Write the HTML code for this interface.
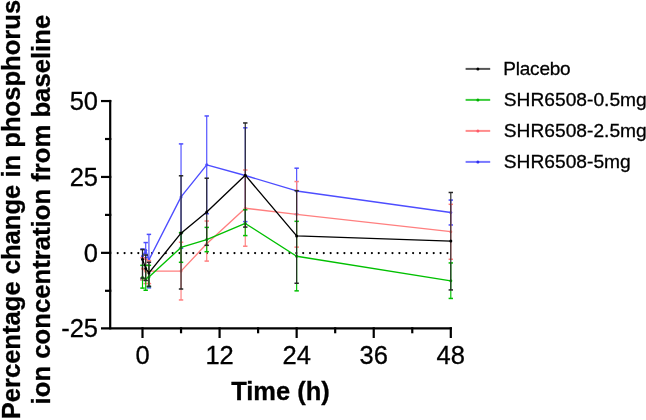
<!DOCTYPE html>
<html><head><meta charset="utf-8"><style>
html,body{margin:0;padding:0;background:#fff;}
body{width:646px;height:420px;overflow:hidden;}
svg{display:block;}
text{-webkit-font-smoothing:antialiased;}
</style></head><body>
<svg width="646" height="420" viewBox="0 0 646 420" style="will-change:transform">
<rect width="646" height="420" fill="#fff"/>
<line x1="117.7" y1="253.10" x2="451" y2="253.10" stroke="#000" stroke-width="2.2" stroke-dasharray="0 6.87" stroke-linecap="round"/>
<line x1="142.50" y1="279.61" x2="142.50" y2="248.95" stroke="#4d4dff" stroke-width="1.15"/>
<line x1="140.30" y1="279.61" x2="144.70" y2="279.61" stroke="#4d4dff" stroke-width="1.5"/>
<line x1="140.30" y1="248.95" x2="144.70" y2="248.95" stroke="#4d4dff" stroke-width="1.5"/>
<line x1="145.71" y1="257.75" x2="145.71" y2="242.57" stroke="#4d4dff" stroke-width="1.15"/>
<line x1="143.51" y1="257.75" x2="147.91" y2="257.75" stroke="#4d4dff" stroke-width="1.5"/>
<line x1="143.51" y1="242.57" x2="147.91" y2="242.57" stroke="#4d4dff" stroke-width="1.5"/>
<line x1="148.92" y1="287.81" x2="148.92" y2="234.38" stroke="#4d4dff" stroke-width="1.15"/>
<line x1="146.72" y1="287.81" x2="151.12" y2="287.81" stroke="#4d4dff" stroke-width="1.5"/>
<line x1="146.72" y1="234.38" x2="151.12" y2="234.38" stroke="#4d4dff" stroke-width="1.5"/>
<line x1="181.04" y1="248.34" x2="181.04" y2="143.90" stroke="#4d4dff" stroke-width="1.15"/>
<line x1="178.84" y1="248.34" x2="183.24" y2="248.34" stroke="#4d4dff" stroke-width="1.5"/>
<line x1="178.84" y1="143.90" x2="183.24" y2="143.90" stroke="#4d4dff" stroke-width="1.5"/>
<line x1="206.73" y1="213.73" x2="206.73" y2="115.97" stroke="#4d4dff" stroke-width="1.15"/>
<line x1="204.53" y1="213.73" x2="208.93" y2="213.73" stroke="#4d4dff" stroke-width="1.5"/>
<line x1="204.53" y1="115.97" x2="208.93" y2="115.97" stroke="#4d4dff" stroke-width="1.5"/>
<line x1="245.27" y1="221.63" x2="245.27" y2="127.81" stroke="#4d4dff" stroke-width="1.15"/>
<line x1="243.07" y1="221.63" x2="247.47" y2="221.63" stroke="#4d4dff" stroke-width="1.5"/>
<line x1="243.07" y1="127.81" x2="247.47" y2="127.81" stroke="#4d4dff" stroke-width="1.5"/>
<line x1="296.65" y1="214.34" x2="296.65" y2="168.19" stroke="#4d4dff" stroke-width="1.15"/>
<line x1="294.45" y1="214.34" x2="298.85" y2="214.34" stroke="#4d4dff" stroke-width="1.5"/>
<line x1="294.45" y1="168.19" x2="298.85" y2="168.19" stroke="#4d4dff" stroke-width="1.5"/>
<line x1="450.80" y1="224.97" x2="450.80" y2="200.07" stroke="#4d4dff" stroke-width="1.15"/>
<line x1="448.60" y1="224.97" x2="453.00" y2="224.97" stroke="#4d4dff" stroke-width="1.5"/>
<line x1="448.60" y1="200.07" x2="453.00" y2="200.07" stroke="#4d4dff" stroke-width="1.5"/>
<polyline points="142.50,256.24 145.71,250.16 148.92,259.88 181.04,196.88 206.73,164.85 245.27,175.48 296.65,190.96 450.80,212.52" fill="none" stroke="#4d4dff" stroke-width="1.35" stroke-linejoin="round"/>
<circle cx="142.50" cy="256.24" r="1.5" fill="#4d4dff"/>
<circle cx="145.71" cy="250.16" r="1.5" fill="#4d4dff"/>
<circle cx="148.92" cy="259.88" r="1.5" fill="#4d4dff"/>
<circle cx="181.04" cy="196.88" r="1.5" fill="#4d4dff"/>
<circle cx="206.73" cy="164.85" r="1.5" fill="#4d4dff"/>
<circle cx="245.27" cy="175.48" r="1.5" fill="#4d4dff"/>
<circle cx="296.65" cy="190.96" r="1.5" fill="#4d4dff"/>
<circle cx="450.80" cy="212.52" r="1.5" fill="#4d4dff"/>
<line x1="142.50" y1="279.92" x2="142.50" y2="257.75" stroke="#ff7f7f" stroke-width="1.15"/>
<line x1="140.30" y1="279.92" x2="144.70" y2="279.92" stroke="#ff7f7f" stroke-width="1.5"/>
<line x1="140.30" y1="257.75" x2="144.70" y2="257.75" stroke="#ff7f7f" stroke-width="1.5"/>
<line x1="145.71" y1="283.56" x2="145.71" y2="259.27" stroke="#ff7f7f" stroke-width="1.15"/>
<line x1="143.51" y1="283.56" x2="147.91" y2="283.56" stroke="#ff7f7f" stroke-width="1.5"/>
<line x1="143.51" y1="259.27" x2="147.91" y2="259.27" stroke="#ff7f7f" stroke-width="1.5"/>
<line x1="148.92" y1="283.56" x2="148.92" y2="260.79" stroke="#ff7f7f" stroke-width="1.15"/>
<line x1="146.72" y1="283.56" x2="151.12" y2="283.56" stroke="#ff7f7f" stroke-width="1.5"/>
<line x1="146.72" y1="260.79" x2="151.12" y2="260.79" stroke="#ff7f7f" stroke-width="1.5"/>
<line x1="181.04" y1="299.95" x2="181.04" y2="242.27" stroke="#ff7f7f" stroke-width="1.15"/>
<line x1="178.84" y1="299.95" x2="183.24" y2="299.95" stroke="#ff7f7f" stroke-width="1.5"/>
<line x1="178.84" y1="242.27" x2="183.24" y2="242.27" stroke="#ff7f7f" stroke-width="1.5"/>
<line x1="206.73" y1="261.09" x2="206.73" y2="221.02" stroke="#ff7f7f" stroke-width="1.15"/>
<line x1="204.53" y1="261.09" x2="208.93" y2="261.09" stroke="#ff7f7f" stroke-width="1.5"/>
<line x1="204.53" y1="221.02" x2="208.93" y2="221.02" stroke="#ff7f7f" stroke-width="1.5"/>
<line x1="245.27" y1="246.22" x2="245.27" y2="170.01" stroke="#ff7f7f" stroke-width="1.15"/>
<line x1="243.07" y1="246.22" x2="247.47" y2="246.22" stroke="#ff7f7f" stroke-width="1.5"/>
<line x1="243.07" y1="170.01" x2="247.47" y2="170.01" stroke="#ff7f7f" stroke-width="1.5"/>
<line x1="296.65" y1="247.13" x2="296.65" y2="181.55" stroke="#ff7f7f" stroke-width="1.15"/>
<line x1="294.45" y1="247.13" x2="298.85" y2="247.13" stroke="#ff7f7f" stroke-width="1.5"/>
<line x1="294.45" y1="181.55" x2="298.85" y2="181.55" stroke="#ff7f7f" stroke-width="1.5"/>
<line x1="450.80" y1="259.27" x2="450.80" y2="204.32" stroke="#ff7f7f" stroke-width="1.15"/>
<line x1="448.60" y1="259.27" x2="453.00" y2="259.27" stroke="#ff7f7f" stroke-width="1.5"/>
<line x1="448.60" y1="204.32" x2="453.00" y2="204.32" stroke="#ff7f7f" stroke-width="1.5"/>
<polyline points="142.50,268.38 145.71,271.42 148.92,271.11 181.04,271.11 206.73,243.79 245.27,208.27 296.65,214.34 450.80,231.64" fill="none" stroke="#ff7f7f" stroke-width="1.35" stroke-linejoin="round"/>
<circle cx="142.50" cy="268.38" r="1.5" fill="#ff7f7f"/>
<circle cx="145.71" cy="271.42" r="1.5" fill="#ff7f7f"/>
<circle cx="148.92" cy="271.11" r="1.5" fill="#ff7f7f"/>
<circle cx="181.04" cy="271.11" r="1.5" fill="#ff7f7f"/>
<circle cx="206.73" cy="243.79" r="1.5" fill="#ff7f7f"/>
<circle cx="245.27" cy="208.27" r="1.5" fill="#ff7f7f"/>
<circle cx="296.65" cy="214.34" r="1.5" fill="#ff7f7f"/>
<circle cx="450.80" cy="231.64" r="1.5" fill="#ff7f7f"/>
<line x1="142.50" y1="288.11" x2="142.50" y2="265.34" stroke="#00c000" stroke-width="1.15"/>
<line x1="140.30" y1="288.11" x2="144.70" y2="288.11" stroke="#00c000" stroke-width="1.5"/>
<line x1="140.30" y1="265.34" x2="144.70" y2="265.34" stroke="#00c000" stroke-width="1.5"/>
<line x1="145.71" y1="290.24" x2="145.71" y2="265.34" stroke="#00c000" stroke-width="1.15"/>
<line x1="143.51" y1="290.24" x2="147.91" y2="290.24" stroke="#00c000" stroke-width="1.5"/>
<line x1="143.51" y1="265.34" x2="147.91" y2="265.34" stroke="#00c000" stroke-width="1.5"/>
<line x1="148.92" y1="286.60" x2="148.92" y2="265.34" stroke="#00c000" stroke-width="1.15"/>
<line x1="146.72" y1="286.60" x2="151.12" y2="286.60" stroke="#00c000" stroke-width="1.5"/>
<line x1="146.72" y1="265.34" x2="151.12" y2="265.34" stroke="#00c000" stroke-width="1.5"/>
<line x1="181.04" y1="262.31" x2="181.04" y2="232.56" stroke="#00c000" stroke-width="1.15"/>
<line x1="178.84" y1="262.31" x2="183.24" y2="262.31" stroke="#00c000" stroke-width="1.5"/>
<line x1="178.84" y1="232.56" x2="183.24" y2="232.56" stroke="#00c000" stroke-width="1.5"/>
<line x1="206.73" y1="251.68" x2="206.73" y2="227.39" stroke="#00c000" stroke-width="1.15"/>
<line x1="204.53" y1="251.68" x2="208.93" y2="251.68" stroke="#00c000" stroke-width="1.5"/>
<line x1="204.53" y1="227.39" x2="208.93" y2="227.39" stroke="#00c000" stroke-width="1.5"/>
<line x1="245.27" y1="235.59" x2="245.27" y2="209.79" stroke="#00c000" stroke-width="1.15"/>
<line x1="243.07" y1="235.59" x2="247.47" y2="235.59" stroke="#00c000" stroke-width="1.5"/>
<line x1="243.07" y1="209.79" x2="247.47" y2="209.79" stroke="#00c000" stroke-width="1.5"/>
<line x1="296.65" y1="290.85" x2="296.65" y2="221.32" stroke="#00c000" stroke-width="1.15"/>
<line x1="294.45" y1="290.85" x2="298.85" y2="290.85" stroke="#00c000" stroke-width="1.5"/>
<line x1="294.45" y1="221.32" x2="298.85" y2="221.32" stroke="#00c000" stroke-width="1.5"/>
<line x1="450.80" y1="298.44" x2="450.80" y2="262.92" stroke="#00c000" stroke-width="1.15"/>
<line x1="448.60" y1="298.44" x2="453.00" y2="298.44" stroke="#00c000" stroke-width="1.5"/>
<line x1="448.60" y1="262.92" x2="453.00" y2="262.92" stroke="#00c000" stroke-width="1.5"/>
<polyline points="142.50,277.49 145.71,279.01 148.92,276.88 181.04,247.43 206.73,239.54 245.27,223.45 296.65,256.24 450.80,280.83" fill="none" stroke="#00c000" stroke-width="1.35" stroke-linejoin="round"/>
<circle cx="142.50" cy="277.49" r="1.5" fill="#00c000"/>
<circle cx="145.71" cy="279.01" r="1.5" fill="#00c000"/>
<circle cx="148.92" cy="276.88" r="1.5" fill="#00c000"/>
<circle cx="181.04" cy="247.43" r="1.5" fill="#00c000"/>
<circle cx="206.73" cy="239.54" r="1.5" fill="#00c000"/>
<circle cx="245.27" cy="223.45" r="1.5" fill="#00c000"/>
<circle cx="296.65" cy="256.24" r="1.5" fill="#00c000"/>
<circle cx="450.80" cy="280.83" r="1.5" fill="#00c000"/>
<line x1="142.50" y1="278.10" x2="142.50" y2="249.56" stroke="#262626" stroke-width="1.15"/>
<line x1="140.30" y1="278.10" x2="144.70" y2="278.10" stroke="#262626" stroke-width="1.5"/>
<line x1="140.30" y1="249.56" x2="144.70" y2="249.56" stroke="#262626" stroke-width="1.5"/>
<line x1="145.71" y1="280.52" x2="145.71" y2="255.02" stroke="#262626" stroke-width="1.15"/>
<line x1="143.51" y1="280.52" x2="147.91" y2="280.52" stroke="#262626" stroke-width="1.5"/>
<line x1="143.51" y1="255.02" x2="147.91" y2="255.02" stroke="#262626" stroke-width="1.5"/>
<line x1="148.92" y1="286.29" x2="148.92" y2="262.31" stroke="#262626" stroke-width="1.15"/>
<line x1="146.72" y1="286.29" x2="151.12" y2="286.29" stroke="#262626" stroke-width="1.5"/>
<line x1="146.72" y1="262.31" x2="151.12" y2="262.31" stroke="#262626" stroke-width="1.5"/>
<line x1="181.04" y1="289.02" x2="181.04" y2="175.78" stroke="#262626" stroke-width="1.15"/>
<line x1="178.84" y1="289.02" x2="183.24" y2="289.02" stroke="#262626" stroke-width="1.5"/>
<line x1="178.84" y1="175.78" x2="183.24" y2="175.78" stroke="#262626" stroke-width="1.5"/>
<line x1="206.73" y1="245.31" x2="206.73" y2="178.21" stroke="#262626" stroke-width="1.15"/>
<line x1="204.53" y1="245.31" x2="208.93" y2="245.31" stroke="#262626" stroke-width="1.5"/>
<line x1="204.53" y1="178.21" x2="208.93" y2="178.21" stroke="#262626" stroke-width="1.5"/>
<line x1="245.27" y1="227.09" x2="245.27" y2="122.96" stroke="#262626" stroke-width="1.15"/>
<line x1="243.07" y1="227.09" x2="247.47" y2="227.09" stroke="#262626" stroke-width="1.5"/>
<line x1="243.07" y1="122.96" x2="247.47" y2="122.96" stroke="#262626" stroke-width="1.5"/>
<line x1="296.65" y1="283.26" x2="296.65" y2="190.66" stroke="#262626" stroke-width="1.15"/>
<line x1="294.45" y1="283.26" x2="298.85" y2="283.26" stroke="#262626" stroke-width="1.5"/>
<line x1="294.45" y1="190.66" x2="298.85" y2="190.66" stroke="#262626" stroke-width="1.5"/>
<line x1="450.80" y1="289.94" x2="450.80" y2="192.48" stroke="#262626" stroke-width="1.15"/>
<line x1="448.60" y1="289.94" x2="453.00" y2="289.94" stroke="#262626" stroke-width="1.5"/>
<line x1="448.60" y1="192.48" x2="453.00" y2="192.48" stroke="#262626" stroke-width="1.5"/>
<polyline points="142.50,259.27 145.71,268.38 148.92,272.93 181.04,233.16 206.73,211.91 245.27,175.17 296.65,235.89 450.80,241.06" fill="none" stroke="#000000" stroke-width="1.35" stroke-linejoin="round"/>
<circle cx="142.50" cy="259.27" r="1.5" fill="#000000"/>
<circle cx="145.71" cy="268.38" r="1.5" fill="#000000"/>
<circle cx="148.92" cy="272.93" r="1.5" fill="#000000"/>
<circle cx="181.04" cy="233.16" r="1.5" fill="#000000"/>
<circle cx="206.73" cy="211.91" r="1.5" fill="#000000"/>
<circle cx="245.27" cy="175.17" r="1.5" fill="#000000"/>
<circle cx="296.65" cy="235.89" r="1.5" fill="#000000"/>
<circle cx="450.80" cy="241.06" r="1.5" fill="#000000"/>
<line x1="110.2" y1="99.9" x2="110.2" y2="329.4" stroke="#000" stroke-width="2.2"/>
<line x1="101" y1="328.3" x2="451.9" y2="328.3" stroke="#000" stroke-width="2.2"/>
<line x1="101" y1="101.05" x2="111.3" y2="101.05" stroke="#000" stroke-width="2.2"/>
<line x1="101" y1="176.95" x2="111.3" y2="176.95" stroke="#000" stroke-width="2.2"/>
<line x1="101" y1="252.85" x2="111.3" y2="252.85" stroke="#000" stroke-width="2.2"/>
<line x1="105" y1="139.00" x2="111.3" y2="139.00" stroke="#000" stroke-width="2.2"/>
<line x1="105" y1="214.90" x2="111.3" y2="214.90" stroke="#000" stroke-width="2.2"/>
<line x1="105" y1="290.80" x2="111.3" y2="290.80" stroke="#000" stroke-width="2.2"/>
<line x1="142.50" y1="327.2" x2="142.50" y2="338" stroke="#000" stroke-width="2.2"/>
<line x1="219.58" y1="327.2" x2="219.58" y2="338" stroke="#000" stroke-width="2.2"/>
<line x1="296.65" y1="327.2" x2="296.65" y2="338" stroke="#000" stroke-width="2.2"/>
<line x1="373.73" y1="327.2" x2="373.73" y2="338" stroke="#000" stroke-width="2.2"/>
<line x1="450.80" y1="327.2" x2="450.80" y2="338" stroke="#000" stroke-width="2.2"/>
<line x1="181.04" y1="327.2" x2="181.04" y2="333.3" stroke="#000" stroke-width="2.2"/>
<line x1="258.11" y1="327.2" x2="258.11" y2="333.3" stroke="#000" stroke-width="2.2"/>
<line x1="335.19" y1="327.2" x2="335.19" y2="333.3" stroke="#000" stroke-width="2.2"/>
<line x1="412.27" y1="327.2" x2="412.27" y2="333.3" stroke="#000" stroke-width="2.2"/>
<text x="98.0" y="109.75" font-family="Liberation Sans, sans-serif" stroke="#000" stroke-width="0.3" font-size="25.5" text-anchor="end">50</text>
<text x="98.0" y="185.65" font-family="Liberation Sans, sans-serif" stroke="#000" stroke-width="0.3" font-size="25.5" text-anchor="end">25</text>
<text x="98.0" y="261.55" font-family="Liberation Sans, sans-serif" stroke="#000" stroke-width="0.3" font-size="25.5" text-anchor="end">0</text>
<text x="98.0" y="336.85" font-family="Liberation Sans, sans-serif" stroke="#000" stroke-width="0.3" font-size="25.5" text-anchor="end">-25</text>
<text x="142.50" y="364" font-family="Liberation Sans, sans-serif" stroke="#000" stroke-width="0.3" font-size="25.5" text-anchor="middle">0</text>
<text x="219.58" y="364" font-family="Liberation Sans, sans-serif" stroke="#000" stroke-width="0.3" font-size="25.5" text-anchor="middle">12</text>
<text x="296.65" y="364" font-family="Liberation Sans, sans-serif" stroke="#000" stroke-width="0.3" font-size="25.5" text-anchor="middle">24</text>
<text x="373.73" y="364" font-family="Liberation Sans, sans-serif" stroke="#000" stroke-width="0.3" font-size="25.5" text-anchor="middle">36</text>
<text x="450.80" y="364" font-family="Liberation Sans, sans-serif" stroke="#000" stroke-width="0.3" font-size="25.5" text-anchor="middle">48</text>
<text x="280.5" y="399.8" font-family="Liberation Sans, sans-serif" stroke="#000" stroke-width="0.3" font-size="25.5" font-weight="bold" text-anchor="middle">Time (h)</text>
<text transform="translate(20.2,209.6) rotate(-90)" font-family="Liberation Sans, sans-serif" stroke="#000" stroke-width="0.3" font-size="25.6" font-weight="bold" text-anchor="middle">Percentage change in phosphorus</text>
<text transform="translate(49.7,209.6) rotate(-90)" font-family="Liberation Sans, sans-serif" stroke="#000" stroke-width="0.3" font-size="25.7" font-weight="bold" text-anchor="middle">ion concentration from baseline</text>
<line x1="465.6" y1="68.9" x2="490.2" y2="68.9" stroke="#555555" stroke-width="2"/>
<circle cx="477.9" cy="68.9" r="1.5" fill="#000"/>
<text x="503.3" y="74.90" font-family="Liberation Sans, sans-serif" stroke="#000" stroke-width="0.3" font-size="19" letter-spacing="-0.22">Placebo</text>
<line x1="465.6" y1="99.9" x2="490.2" y2="99.9" stroke="#3ccc3c" stroke-width="2"/>
<circle cx="477.9" cy="99.9" r="1.5" fill="#00b000"/>
<text x="503.8" y="106.20" font-family="Liberation Sans, sans-serif" stroke="#000" stroke-width="0.3" font-size="19.2">SHR6508-0.5mg</text>
<line x1="465.6" y1="130.9" x2="490.2" y2="130.9" stroke="#ff8c8c" stroke-width="2"/>
<circle cx="477.9" cy="130.9" r="1.5" fill="#ff5a6a"/>
<text x="503.8" y="137.20" font-family="Liberation Sans, sans-serif" stroke="#000" stroke-width="0.3" font-size="19.2">SHR6508-2.5mg</text>
<line x1="465.6" y1="161.9" x2="490.2" y2="161.9" stroke="#7878ff" stroke-width="2"/>
<circle cx="477.9" cy="161.9" r="1.5" fill="#3030ee"/>
<text x="503.8" y="168.20" font-family="Liberation Sans, sans-serif" stroke="#000" stroke-width="0.3" font-size="19.2">SHR6508-5mg</text>
</svg>
</body></html>
